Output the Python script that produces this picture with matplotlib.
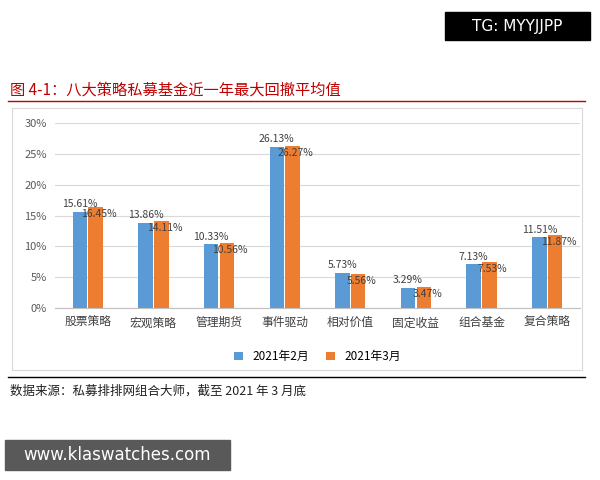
import matplotlib
matplotlib.use("Agg")
import matplotlib.pyplot as plt
import numpy as np
from matplotlib.patches import Rectangle

plt.rcParams['font.family'] = ['Noto Sans CJK SC', 'DejaVu Sans']

categories = ["股票策略", "宏观策略", "管理期货", "事件驱动", "相对价值", "固定收益", "组合基金", "复合策略"]
feb = [15.61, 13.86, 10.33, 26.13, 5.73, 3.29, 7.13, 11.51]
mar = [16.45, 14.11, 10.56, 26.27, 5.56, 3.47, 7.53, 11.87]
series_names = ["2021年2月", "2021年3月"]
yticks = [0, 5, 10, 15, 20, 25, 30]

W, H = 600, 480
fig = plt.figure(figsize=(6, 4.8), dpi=100)
fig.patch.set_facecolor('white')

def fx(x): return x / W
def fy(y): return 1 - y / H

fig.patches.append(Rectangle((fx(445), fy(40)), fx(590) - fx(445), fy(12) - fy(40),
                             transform=fig.transFigure, color='black'))
fig.text(fx(517), fy(26), "TG: MYYJJPP", color='white', fontsize=11, ha='center', va='center',
         family='DejaVu Sans')

fig.text(fx(10), fy(90), "图 4-1：八大策略私募基金近一年最大回撤平均值", color='#C00000',
         fontsize=11, ha='left', va='center')
fig.add_artist(plt.Line2D([fx(8), fx(585)], [fy(101), fy(101)], color='#C00000', lw=1))

fig.patches.append(Rectangle((fx(12), fy(370)), fx(582) - fx(12), fy(108) - fy(370),
                             transform=fig.transFigure, fill=False, ec='#D9D9D9', lw=0.8))

ax = fig.add_axes([fx(55), fy(308), fx(580) - fx(55), fy(123) - fy(308)])
x = np.arange(len(categories))
w = 0.22
off = 0.12
ax.bar(x - off, feb, w, color='#5B9BD5', label=series_names[0])
ax.bar(x + off, mar, w, color='#ED7D31', label=series_names[1])
for xi, v in zip(x, feb):
    ax.text(xi - off, v + 0.4, f"{v:.2f}%", ha='center', va='bottom', fontsize=7.5, color='#404040')
for xi, v in zip(x, mar):
    ax.text(xi + off + 0.05, v - 0.4, f"{v:.2f}%", ha='center', va='top', fontsize=7.5, color='#404040')
ax.set_ylim(0, 30)
ax.set_xlim(-0.5, len(categories) - 0.5)
ax.set_yticks(yticks)
ax.set_yticklabels([f"{t}%" for t in yticks], fontsize=8, color='#595959')
ax.set_xticks(x)
ax.set_xticklabels(categories, fontsize=8.5, color='#404040')
ax.grid(axis='y', color='#D9D9D9', lw=0.8)
ax.set_axisbelow(True)
for s in ['top', 'right', 'left']:
    ax.spines[s].set_visible(False)
ax.spines['bottom'].set_color('#BFBFBF')
ax.tick_params(length=0, pad=6)
ax.legend(loc='upper center', bbox_to_anchor=(0.5, -0.17), ncol=2, frameon=False,
          fontsize=8.5, handlelength=0.7, handleheight=0.7, columnspacing=1.5)

fig.add_artist(plt.Line2D([fx(8), fx(585)], [fy(377), fy(377)], color='black', lw=1))
fig.text(fx(10), fy(391), "数据来源：私募排排网组合大师，截至 2021 年 3 月底", fontsize=9,
         ha='left', va='center', color='#202020')

fig.patches.append(Rectangle((fx(5), fy(470)), fx(230) - fx(5), fy(440) - fy(470),
                             transform=fig.transFigure, color='#595959'))
fig.text(fx(117), fy(455), "www.klaswatches.com", color='white', fontsize=12, ha='center', va='center',
         family='DejaVu Sans')

fig.savefig("out.png", dpi=100)
